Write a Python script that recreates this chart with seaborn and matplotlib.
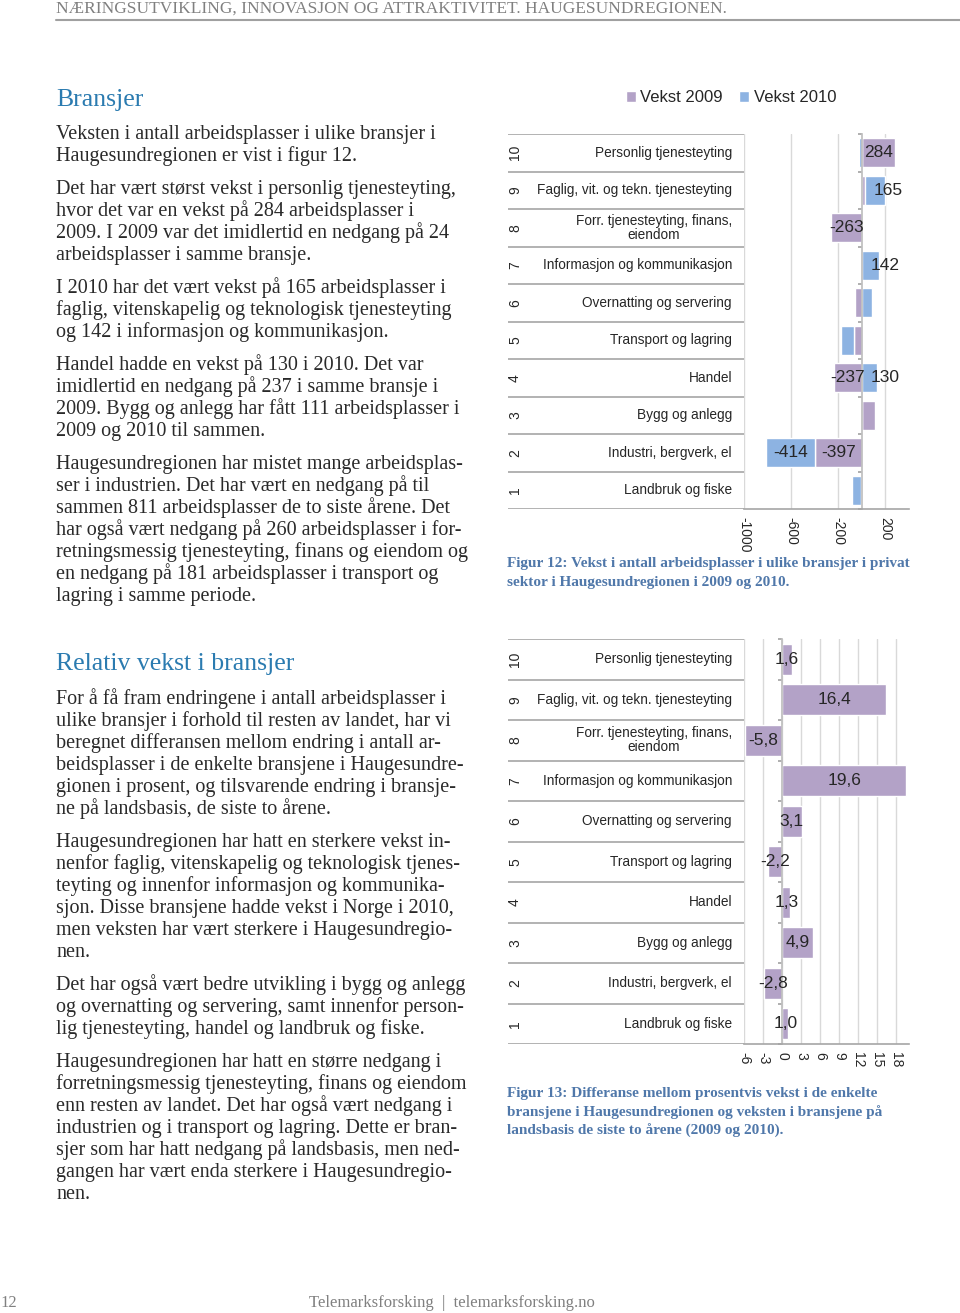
import numpy as np
import pandas as pd
import matplotlib.pyplot as plt
import seaborn as sns

# ── Data ──────────────────────────────────────────────────────────────────────
NUMMER = ["10", "9", "8", "7", "6", "5", "4", "3", "2", "1"]
BRANSJER = [
    "Personlig tjenesteyting",
    "Faglig, vit. og tekn. tjenesteyting",
    "Forr. tjenesteyting, finans,\neiendom",
    "Informasjon og kommunikasjon",
    "Overnatting og servering",
    "Transport og lagring",
    "Handel",
    "Bygg og anlegg",
    "Industri, bergverk, el",
    "Landbruk og fiske",
]
VEKST_2009 = [284, 30, -263, 3, -60, -65, -237, 111, -397, -10]
VEKST_2010 = [-24, 165, 3, 142, 84, -116, 130, 0, -414, -75]
DIFFERANSE = [1.6, 16.4, -5.8, 19.6, 3.1, -2.2, 1.3, 4.9, -2.8, 1.0]
TICKS_FIG12 = [-1000, -600, -200, 200]
TICKS_FIG13 = [-6, -3, 0, 3, 6, 9, 12, 15, 18]
SERIER = ["Vekst 2009", "Vekst 2010"]

TEKST_1 = [
    "Veksten i antall arbeidsplasser i ulike bransjer i",
    "Haugesundregionen er vist i figur 12.",
    None,
    "Det har vært størst vekst i personlig tjenesteyting,",
    "hvor det var en vekst på 284 arbeidsplasser i",
    "2009. I 2009 var det imidlertid en nedgang på 24",
    "arbeidsplasser i samme bransje.",
    None,
    "I 2010 har det vært vekst på 165 arbeidsplasser i",
    "faglig, vitenskapelig og teknologisk tjenesteyting",
    "og 142 i informasjon og kommunikasjon.",
    None,
    "Handel hadde en vekst på 130 i 2010. Det var",
    "imidlertid en nedgang på 237 i samme bransje i",
    "2009. Bygg og anlegg har fått 111 arbeidsplasser i",
    "2009 og 2010 til sammen.",
    None,
    "Haugesundregionen har mistet mange arbeidsplas-",
    "ser i industrien. Det har vært en nedgang på til",
    "sammen 811 arbeidsplasser de to siste årene. Det",
    "har også vært nedgang på 260 arbeidsplasser i for-",
    "retningsmessig tjenesteyting, finans og eiendom og",
    "en nedgang på 181 arbeidsplasser i transport og",
    "lagring i samme periode.",
]
TEKST_2 = [
    "For å få fram endringene i antall arbeidsplasser i",
    "ulike bransjer i forhold til resten av landet, har vi",
    "beregnet differansen mellom endring i antall ar-",
    "beidsplasser i de enkelte bransjene i Haugesundre-",
    "gionen i prosent, og tilsvarende endring i bransje-",
    "ne på landsbasis, de siste to årene.",
    None,
    "Haugesundregionen har hatt en sterkere vekst in-",
    "nenfor faglig, vitenskapelig og teknologisk tjenes-",
    "teyting og innenfor informasjon og kommunika-",
    "sjon. Disse bransjene hadde vekst i Norge i 2010,",
    "men veksten har vært sterkere i Haugesundregio-",
    "nen.",
    None,
    "Det har også vært bedre utvikling i bygg og anlegg",
    "og overnatting og servering, samt innenfor person-",
    "lig tjenesteyting, handel og landbruk og fiske.",
    None,
    "Haugesundregionen har hatt en større nedgang i",
    "forretningsmessig tjenesteyting, finans og eiendom",
    "enn resten av landet. Det har også vært nedgang i",
    "industrien og i transport og lagring. Dette er bran-",
    "sjer som har hatt nedgang på landsbasis, men ned-",
    "gangen har vært enda sterkere i Haugesundregio-",
    "nen.",
]
FIGUR_12 = ["Figur 12: Vekst i antall arbeidsplasser i ulike bransjer i privat",
            "sektor i Haugesundregionen i 2009 og 2010."]
FIGUR_13 = ["Figur 13: Differanse mellom prosentvis vekst i de enkelte",
            "bransjene i Haugesundregionen og veksten i bransjene på",
            "landsbasis de siste to årene (2009 og 2010)."]

# ── Stil ──────────────────────────────────────────────────────────────────────
LILLA = "#b3a2c7"
BLAA = "#8db3e2"
OVERSKRIFT = "#2b7bb0"
FIGURTEKST = "#5078aa"
LINJE = "#a6a6a6"
SERIF = "Liberation Serif"

sns.set_theme(style="white")
plt.rcParams["font.family"] = ["Liberation Sans", "DejaVu Sans"]

W, H = 960, 1313
fig = plt.figure(figsize=(W / 100, H / 100), dpi=100)


def boks(x0, y0, x1, y1):
    return [x0 / W, 1 - y1 / H, (x1 - x0) / W, (y1 - y0) / H]


def tekst(x, y, s, **kw):
    fig.text(x / W, 1 - y / H, s, va="baseline", **kw)


def avsnitt(linjer, y):
    for linje in linjer:
        if linje is None:
            y += 11
            continue
        tekst(56, y, linje, family=SERIF, fontsize=14.5, color="#2a2a2a")
        y += 22


def tabell(tab, n):
    tab.set_xlim(0, 236)
    tab.set_ylim(n - 0.5, -0.5)
    tab.axis("off")
    tab.hlines(np.arange(n + 1) - 0.5, 0, 236, color=LINJE, lw=1.2)
    for i, (nr, navn) in enumerate(zip(NUMMER, BRANSJER)):
        tab.text(7, i, nr, rotation=90, ha="center", va="center", fontsize=10)
        tab.text(224, i, navn, ha="right", va="center", multialignment="center",
                 fontsize=9.8, linespacing=1.0)


def pynt(ax, ticks, xlim, n):
    ax.set_xlim(xlim)
    ax.set_ylim(n - 0.5, -0.5)
    ax.set_xticks(ticks)
    ax.set_xticklabels([f"{t}" for t in ticks], rotation=-90, fontsize=10,
                       va="top", ha="center")
    ax.set_yticks(np.arange(n + 1) - 0.5)
    ax.set_yticklabels([])
    ax.grid(axis="x", color="#d9d9d9", lw=1)
    ax.grid(axis="y", visible=False)
    ax.set_axisbelow(True)
    ax.spines["top"].set_visible(False)
    ax.spines["right"].set_visible(False)
    ax.spines["left"].set_position(("data", 0))
    ax.spines["left"].set_color("#bfbfbf")
    ax.spines["bottom"].set_color(LINJE)
    ax.spines["bottom"].set_linewidth(1.2)
    ax.tick_params(axis="y", direction="out", length=3, color=LINJE, left=True)
    ax.tick_params(axis="x", length=0, pad=6)
    ax.set_xlabel("")
    ax.set_ylabel("")


n = len(BRANSJER)

# ── Figur 12 ──────────────────────────────────────────────────────────────────
df1 = pd.DataFrame({"bransje": BRANSJER, "v2009": VEKST_2009, "v2010": VEKST_2010})
ax1 = fig.add_axes(boks(744, 134, 909, 509))
sns.barplot(data=df1, x="v2009", y="bransje", orient="h", color=LILLA,
            saturation=1, width=0.77, ax=ax1)
v09 = df1["v2009"].to_numpy()
v10 = df1["v2010"].to_numpy()
start = np.where(np.sign(v09) == np.sign(v10), v09, 0)
b10 = ax1.barh(np.arange(n), v10, left=start, height=0.77, color=BLAA)
for i, (a, b, s) in enumerate(zip(v09, v10, start)):
    if abs(a) >= 130:
        ax1.text(a / 2, i, f"{a}", ha="center", va="center", fontsize=12.5)
    if b <= -130:
        ax1.text(s + b / 2, i, f"{b}", ha="center", va="center", fontsize=12.5)
    elif b >= 130:
        # smale segmenter: etiketten står til høyre for starten
        ax1.annotate(f"{b}", (s, i), xytext=(6, 0), textcoords="offset points",
                     ha="left", va="center", fontsize=12.5)
pynt(ax1, TICKS_FIG12, (-1000, 400), n)
tabell(fig.add_axes(boks(508, 134, 744, 509)), n)

fig.legend([ax1.containers[0], b10], SERIER, loc="center",
           bbox_to_anchor=(731 / W, 1 - 98 / H), ncol=2, frameon=False,
           fontsize=12, handlelength=0.6, handleheight=0.6,
           handletextpad=0.25, columnspacing=1.0)

# ── Figur 13 ──────────────────────────────────────────────────────────────────
df2 = pd.DataFrame({"bransje": BRANSJER, "diff": DIFFERANSE})
ax2 = fig.add_axes(boks(744, 639, 909, 1044))
sns.barplot(data=df2, x="diff", y="bransje", orient="h", color=LILLA,
            saturation=1, width=0.77, ax=ax2)
for i, v in enumerate(DIFFERANSE):
    ax2.text(v / 2, i, f"{v:.1f}".replace(".", ","), ha="center", va="center",
             fontsize=12.5)
pynt(ax2, TICKS_FIG13, (-6, 20), n)
tabell(fig.add_axes(boks(508, 639, 744, 1044)), n)

# ── Sidetekst ─────────────────────────────────────────────────────────────────
tekst(56, 13, "NÆRINGSUTVIKLING, INNOVASJON OG ATTRAKTIVITET. HAUGESUNDREGIONEN.",
      family=SERIF, fontsize=12.5, color="#808080")
fig.add_artist(plt.Line2D([56 / W, 1], [1 - 20 / H] * 2, color="#a0a0a0", lw=1.5))

tekst(56, 106, "Bransjer", family=SERIF, fontsize=18.5, color=OVERSKRIFT)
avsnitt(TEKST_1, 139)

tekst(56, 670, "Relativ vekst i bransjer", family=SERIF, fontsize=18.5,
      color=OVERSKRIFT)
avsnitt(TEKST_2, 704)

for k, linje in enumerate(FIGUR_12):
    tekst(507, 567 + 19 * k, linje, family=SERIF, fontsize=11, weight="bold",
          color=FIGURTEKST)
for k, linje in enumerate(FIGUR_13):
    tekst(507, 1097 + 19 * k, linje, family=SERIF, fontsize=11, weight="bold",
          color=FIGURTEKST)

tekst(0, 1307, "12", family=SERIF, fontsize=12, color="#808080")
tekst(452, 1307, "Telemarksforsking  |  telemarksforsking.no", family=SERIF,
      fontsize=12, color="#808080", ha="center")

fig.savefig("out.png", dpi=100)
